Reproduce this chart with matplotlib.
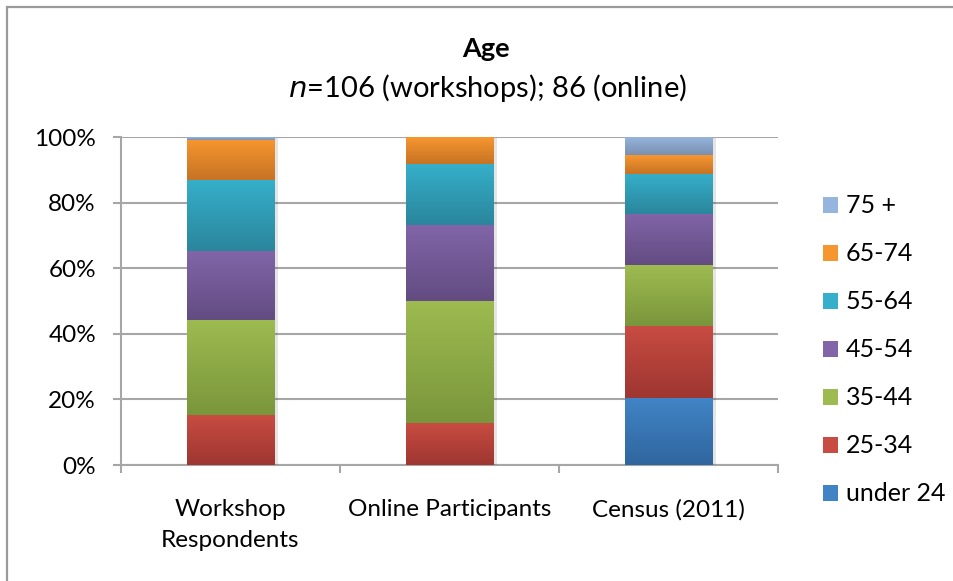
import numpy as np
import matplotlib
matplotlib.use('Agg')
import matplotlib.pyplot as plt
from matplotlib.patches import Rectangle, Patch
from matplotlib.colors import LinearSegmentedColormap
import matplotlib.patheffects as pe

plt.rcParams['font.family'] = ['Lato', 'DejaVu Sans']

groups = ['Workshop\nRespondents', 'Online Participants', 'Census (2011)']
ages = ['under 24', '25-34', '35-44', '45-54', '55-64', '65-74', '75 +']

# percent of respondents per age band, one list per group
workshop = [0.0, 15.1, 29.2, 20.8, 21.7, 12.3, 0.9]
online = [0.0, 12.8, 37.2, 23.3, 18.6, 8.1, 0.0]
census = [20.5, 22.0, 18.5, 15.6, 12.2, 5.7, 5.5]

# (top, bottom) gradient colours for each band
top_cols = ['#4184c6', '#c84c42', '#9dbb50', '#8165a8', '#36afca', '#f6962f', '#96b5de']
bot_cols = ['#30669f', '#9e3631', '#7a963c', '#634c82', '#2a869c', '#c77324', '#7a90b0']

grid_col = '#a6a6a6'

fig = plt.figure(figsize=(9.54, 5.81), dpi=100)
ax = fig.add_axes([121 / 954, 1 - 465 / 581, 657 / 954, 328 / 581])

# outer chart border
fig.patches.append(Rectangle((7 / 954, -0.1), 1.2, 1 - 7 / 581 + 0.1,
                             transform=fig.transFigure, fill=False,
                             edgecolor='#9a9a9a', lw=1.6, zorder=0))

data = np.array([workshop, online, census])
x = np.arange(len(groups))
bottom = np.zeros(len(groups))
grad = np.linspace(0, 1, 64).reshape(-1, 1)

for i, age in enumerate(ages):
    vals = data[:, i]
    bars = ax.bar(x, vals, width=0.4, bottom=bottom, color=top_cols[i],
                  lw=0, zorder=3)
    cmap = LinearSegmentedColormap.from_list(age, [bot_cols[i], top_cols[i]])
    for b in bars:
        if b.get_height() <= 0:
            continue
        b.set_path_effects([pe.SimplePatchShadow(offset=(2.5, -0.5),
                                                 shadow_rgbFace='#000000',
                                                 alpha=0.1), pe.Normal()])
        x0, y0 = b.get_x(), b.get_y()
        im = ax.imshow(grad, cmap=cmap, origin='lower', aspect='auto',
                       extent=(x0, x0 + b.get_width(), y0, y0 + b.get_height()),
                       zorder=4)
        im.set_clip_path(b)
    bottom += vals

ax.set_xlim(-0.5, 2.5)
ax.set_ylim(0, 100)

ax.set_yticks(np.arange(0, 101, 20))
ax.set_yticklabels(['{}%'.format(v) for v in range(0, 101, 20)])
ax.yaxis.grid(True, color=grid_col, lw=1.5, zorder=0)
ax.set_axisbelow(True)

ax.set_xticks(x)
ax.set_xticklabels(groups, linespacing=1.6)
ax.set_xticks([-0.5, 0.5, 1.5, 2.5], minor=True)
ax.tick_params(axis='x', which='major', length=0, pad=24.5, labelsize=17.5)
ax.tick_params(axis='x', which='minor', length=6, width=1.5, color=grid_col)
ax.tick_params(axis='y', length=6, width=1.5, color=grid_col, pad=12,
               labelsize=17.5)

for s in ['top', 'right']:
    ax.spines[s].set_visible(False)
for s in ['left', 'bottom']:
    ax.spines[s].set_color(grid_col)
    ax.spines[s].set_linewidth(1.5)

fig.text(486 / 954, 1 - 49 / 581, 'Age', ha='center', va='center',
         fontsize=19.5, fontweight='bold')
fig.text(487 / 954, 1 - 88 / 581, '$n$=106 (workshops); 86 (online)',
         ha='center', va='center', fontsize=21)

handles = [Patch(facecolor=top_cols[i], edgecolor='none') for i in range(len(ages))][::-1]
leg = fig.legend(handles, ages[::-1], loc='upper left',
                 bbox_to_anchor=(801 / 954, 1 - 172 / 581), frameon=False,
                 fontsize=18, labelspacing=1.0, handlelength=0.6,
                 handleheight=0.6, handletextpad=0.3, borderpad=0.4)

fig.savefig('out.png', dpi=100)
